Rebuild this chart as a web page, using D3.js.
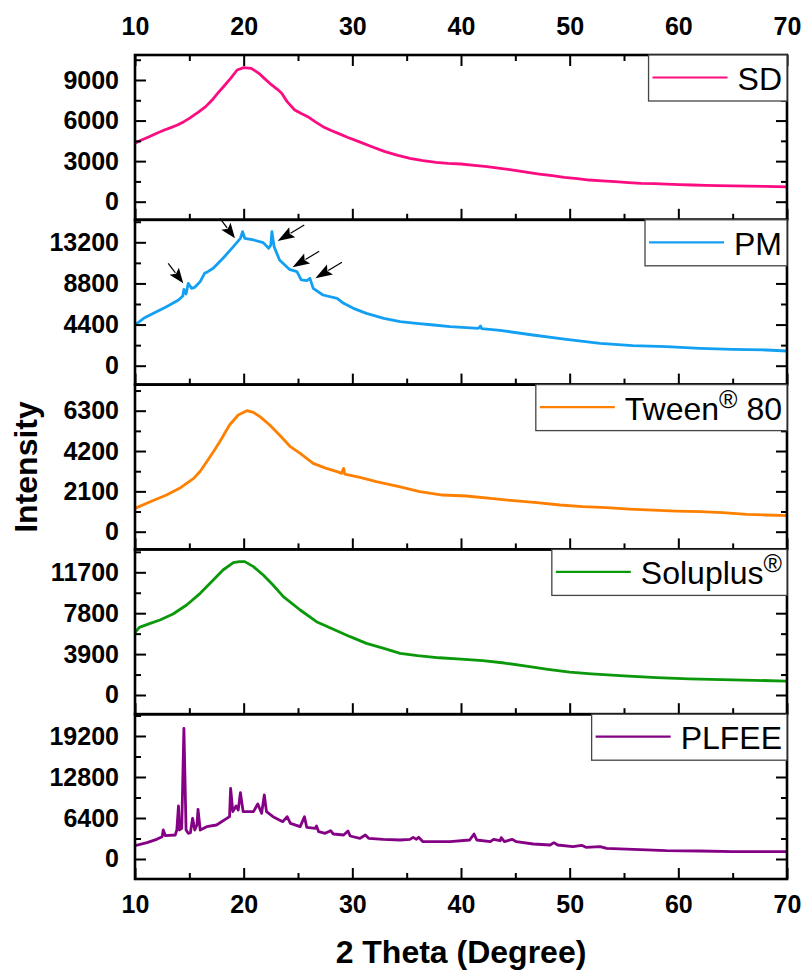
<!DOCTYPE html>
<html>
<head>
<meta charset="utf-8">
<script src="https://cdn.jsdelivr.net/npm/d3@7"></script>
<style>
  body { margin: 0; background: #fff; }
  svg { display: block; }
  text { font-family: "Liberation Sans", Arial, Helvetica, sans-serif; }
</style>
</head>
<body>
<svg id="chart" width="804" height="972"></svg>
<script>
// ---- Data: XRD scans, [2θ (degree), intensity] ----
const sdScan = [[10,4320],[10.6,4560],[11.3,4800],[12,5060],[12.7,5300],[13.3,5480],[13.9,5670],[14.5,5920],[15,6165],[15.8,6600],[16.5,7030],[17.1,7520],[17.6,8015],[18.2,8560],[18.8,9125],[19.4,9740],[20,9913],[20.7,9864],[21.4,9494],[21.9,9120],[22.4,8754],[23.1,8310],[23.5,8015],[24,7400],[24.7,6780],[25.3,6520],[25.9,6290],[26.6,5900],[27.3,5550],[28,5280],[28.7,5055],[29.6,4750],[30.6,4440],[31.8,4060],[33,3700],[34.2,3420],[35.3,3206],[36.5,3040],[37.7,2910],[38.8,2840],[40,2787],[41.2,2690],[42.4,2590],[43.6,2470],[44.8,2343],[46,2190],[47.2,2047],[48.4,1920],[49.5,1800],[50.7,1700],[51.8,1603],[53,1540],[54.2,1480],[55.4,1415],[56.6,1356],[57.8,1330],[58.9,1300],[60.1,1265],[61.3,1233],[62.5,1210],[63.6,1190],[65,1170],[66.5,1150],[68,1130],[70,1100]];

const pmScan = [[10,4353],[10.8,5066],[11.7,5600],[12.9,6315],[14,7029],[14.4,7457],[14.5,8170],[14.7,7670],[14.9,8813],[15.2,8278],[15.5,8385],[16,8991],[16.4,9883],[16.7,10062],[17.2,10419],[18.1,11489],[19.05,12738],[19.7,13630],[19.9,14343],[20.1,13630],[20.9,13451],[21.8,13166],[22.3,12560],[22.5,12916],[22.6,14343],[22.8,12738],[23.3,11311],[24.2,10312],[24.9,10062],[25.3,9170],[25.8,9098],[26.1,9348],[26.4,8278],[27.3,7564],[28.6,7207],[29.2,6672],[30.1,6137],[31.3,5602],[32.9,5066],[34.4,4710],[35.9,4531],[37.5,4353],[39,4175],[40.5,4068],[41.6,3996],[41.8,4246],[41.9,3960],[43.6,3780],[46.6,3283],[49.7,2819],[52.8,2391],[55.8,2141],[58.9,2034],[62,1855],[65,1748],[68.1,1677],[70,1570]];

const tweenScan = [[10,1215],[11.4,1562],[12.9,1910],[14.1,2257],[15.4,2778],[16,3150],[16.6,3646],[17.2,4150],[17.8,4687],[18.7,5555],[19.5,6076],[20.3,6300],[20.9,6215],[21.5,5989],[22.4,5555],[23.3,5034],[24.3,4427],[25.2,4080],[26.4,3559],[27.6,3298],[28.6,3125],[29,3038],[29.2,3298],[29.3,3003],[30.7,2830],[32.2,2604],[34.4,2330],[36.2,2083],[38.3,1910],[40.5,1858],[42.7,1736],[44.8,1614],[47,1510],[49.1,1389],[51.2,1302],[53.4,1250],[55.5,1180],[57.7,1128],[59.8,1076],[62,1042],[64.1,990],[66.3,903],[68.1,868],[70,833]];

const soluplusScan = [[10,5945],[10.4,6453],[11.4,6835],[12.3,7153],[13.5,7725],[14.75,8583],[16,9696],[17.2,10968],[18.1,11921],[19.05,12621],[19.6,12716],[20.1,12716],[20.9,12239],[21.8,11444],[22.7,10491],[23.65,9378],[25.2,8106],[26.7,6994],[28.25,6263],[29.8,5563],[31.3,4927],[32.9,4451],[34.4,3974],[36,3750],[38,3550],[40,3420],[42,3280],[44,3050],[46,2750],[48,2450],[50,2190],[52,2020],[55,1820],[58,1650],[61,1540],[64,1460],[67,1400],[70,1330]];

const plfeeScan = [[10,2081],[11.1,2550],[12,3070],[12.5,3486],[12.6,4527],[12.8,3642],[13.7,3746],[13.85,4527],[14,8273],[14.1,4527],[14.3,4787],[14.5,20396],[14.7,4527],[14.9,4006],[15.1,4110],[15.3,6348],[15.5,4527],[15.7,5307],[15.8,7752],[16,4527],[16.6,5047],[17.5,5307],[18.7,6608],[18.8,11030],[19,7388],[19.3,8273],[19.5,7648],[19.7,10354],[19.95,7388],[20.9,7388],[21.3,8585],[21.65,7128],[21.9,9990],[22.1,7388],[22.7,6608],[23.6,5827],[24,6608],[24.3,5567],[25.2,5047],[25.6,6608],[25.8,4943],[26.6,4787],[26.7,5151],[26.9,4266],[27.5,4006],[28,4423],[28.25,3902],[29.2,3746],[29.6,4370],[29.8,3590],[30.7,3226],[31.2,3746],[31.5,3226],[32.85,3070],[34.4,2966],[35.3,3070],[35.6,3382],[35.9,3070],[36.1,3382],[36.5,2706],[39,2706],[40.8,2966],[41.2,3902],[41.45,2966],[42.7,2706],[43,3070],[43.6,2850],[43.7,3330],[44,2706],[44.7,3070],[45.1,2706],[46.65,2341],[48.2,2185],[48.55,2550],[48.9,2185],[50.3,1925],[51.1,2133],[51.5,1821],[52.8,1925],[53.4,1665],[55.85,1509],[58.9,1300],[62,1249],[65,1145],[70,1145]];

// ---- Panel configuration ----
const seriesLabels = ["SD", "PM", "Tween® 80", "Soluplus®", "PLFEE"];
const seriesColors = ["#fb0c81", "#14a0f2", "#ff8000", "#0b980b", "#840084"];
const scans = [sdScan, pmScan, tweenScan, soluplusScan, plfeeScan];
const yDomains = [[-1339, 10849], [-2022, 15607], [-922, 7659], [-1831, 13884], [-3122, 22603]];
const yTickSteps = [3000, 4400, 2100, 3900, 6400];

const xDomain = [10, 70];
const xMajorTicks = [10, 20, 30, 40, 50, 60, 70];
const xMinorTicks = [15, 25, 35, 45, 55, 65];

// Peak markers on the PM pattern: tip position and the side the arrow comes from
const pmArrows = [
  { theta: 14.44, intensity: 8814, from: "upper-left" },
  { theta: 19.2, intensity: 13628, from: "upper-left" },
  { theta: 23.13, intensity: 13339, from: "upper-right" },
  { theta: 24.5, intensity: 10526, from: "upper-right" },
  { theta: 26.6, intensity: 9349, from: "upper-right" }
];

// ---- Layout ----
const svg = d3.select("#chart");
const left = 135, right = 787, top0 = 55, panelH = 164.8;
const majorLen = 11, minorLen = 6;
const tickFont = 25;

const x = d3.scaleLinear().domain(xDomain).range([left, right]);

const defs = svg.append("defs");

scans.forEach((scan, i) => {
  const pTop = top0 + i * panelH;
  const pBot = pTop + panelH;
  const y = d3.scaleLinear().domain(yDomains[i]).range([pBot, pTop]);
  const g = svg.append("g").attr("class", "panel");

  const step = yTickSteps[i];
  const majors = d3.range(0, yDomains[i][1] + 1, step);
  const minors = d3.range(step / 2, yDomains[i][1], step);

  // clip for the curve
  const clipId = "clip" + i;
  defs.append("clipPath").attr("id", clipId)
    .append("rect").attr("x", left).attr("y", pTop).attr("width", right - left).attr("height", panelH);

  // curve
  const line = d3.line().x(d => x(d[0])).y(d => y(d[1]));
  g.append("path").datum(scan)
    .attr("clip-path", `url(#${clipId})`)
    .attr("d", line)
    .attr("fill", "none")
    .attr("stroke", seriesColors[i])
    .attr("stroke-width", 2.8)
    .attr("stroke-linejoin", "round");

  // left axis (labels, inward ticks)
  const leftAx = g.append("g").attr("transform", `translate(${left},0)`)
    .call(d3.axisLeft(y).tickValues(majors).tickSizeInner(-majorLen).tickSizeOuter(0).tickPadding(16).tickFormat(d3.format("d")));
  leftAx.append("g").call(d3.axisLeft(y).tickValues(minors).tickSizeInner(-minorLen).tickSizeOuter(0).tickFormat(""));

  // right axis (inward ticks, no labels)
  const rightAx = g.append("g").attr("transform", `translate(${right},0)`)
    .call(d3.axisRight(y).tickValues(majors).tickSizeInner(-majorLen).tickSizeOuter(0).tickFormat(""));
  rightAx.append("g").call(d3.axisRight(y).tickValues(minors).tickSizeInner(-minorLen).tickSizeOuter(0).tickFormat(""));

  // bottom axis of the panel (ticks pointing up)
  const isLast = i === scans.length - 1;
  const botAx = g.append("g").attr("transform", `translate(0,${pBot})`)
    .call(d3.axisBottom(x).tickValues(xMajorTicks).tickSizeInner(-majorLen).tickSizeOuter(0).tickPadding(16)
      .tickFormat(isLast ? d3.format("d") : ""));
  botAx.append("g").call(d3.axisBottom(x).tickValues(xMinorTicks).tickSizeInner(-minorLen).tickSizeOuter(0).tickFormat(""));

  // top axis on the first panel only (labelled, ticks pointing down)
  if (i === 0) {
    const topAx = g.append("g").attr("transform", `translate(0,${pTop})`)
      .call(d3.axisTop(x).tickValues(xMajorTicks).tickSizeInner(-majorLen).tickSizeOuter(0).tickPadding(20).tickFormat(d3.format("d")));
    topAx.append("g").call(d3.axisTop(x).tickValues(xMinorTicks).tickSizeInner(-minorLen).tickSizeOuter(0).tickFormat(""));
  }

  // frame
  g.append("rect").attr("x", left).attr("y", pTop).attr("width", right - left).attr("height", panelH)
    .attr("fill", "none").attr("stroke", "#000").attr("stroke-width", 2.6);

  // legend
  const parts = seriesLabels[i].split("®");
  const leg = g.append("g");
  const box = leg.append("rect");
  const txt = leg.append("text")
    .attr("y", pTop + 35)
    .attr("font-size", 32).attr("fill", "#000");
  txt.append("tspan").text(parts[0]);
  if (parts.length > 1) {
    txt.append("tspan").attr("font-size", 25).attr("dy", -12).text("®");
    if (parts[1].length) txt.append("tspan").attr("dy", 12).text(parts[1]);
  }
  const tw = txt.node().getComputedTextLength();
  const textX = right - 5 - tw;
  txt.attr("x", textX);
  const boxL = textX - 89;
  box.attr("x", boxL).attr("y", pTop).attr("width", right - boxL).attr("height", 46)
    .attr("fill", "#fff").attr("stroke", "#444").attr("stroke-width", 1.3);
  leg.append("line").attr("x1", boxL + 4).attr("x2", boxL + 79)
    .attr("y1", pTop + 22.5).attr("y2", pTop + 22.5)
    .attr("stroke", seriesColors[i]).attr("stroke-width", 2.2);
  txt.raise();

  // arrows marking PM reflections
  if (i === 1) {
    pmArrows.forEach(a => {
      const fromLeft = a.from === "upper-left";
      const ang = fromLeft ? 53 : 149;
      const total = fromLeft ? 25 : 31;
      const head = fromLeft ? 15 : 17;
      const ag = g.append("g")
        .attr("transform", `translate(${x(a.theta)},${y(a.intensity)}) rotate(${ang})`);
      ag.append("line").attr("x1", -head + 2).attr("x2", -total).attr("y1", 0).attr("y2", 0)
        .attr("stroke", "#000").attr("stroke-width", 1.2);
      ag.append("path").attr("d", `M0,0 L${-head},${-5.8} L${-head + 3},0 L${-head},5.8 Z`)
        .attr("fill", "#000");
    });
  }
});

// axis styling
svg.selectAll(".domain").remove();
svg.selectAll(".tick line").attr("stroke", "#000").attr("stroke-width", 2);
svg.selectAll(".tick text")
  .attr("font-size", tickFont).attr("font-weight", "bold").attr("fill", "#000")
  .style("font-family", '"Liberation Sans", Arial, sans-serif');

// axis titles
svg.append("text")
  .attr("transform", `translate(37,${top0 + panelH * 2.5}) rotate(-90)`)
  .attr("text-anchor", "middle")
  .attr("font-size", 32).attr("font-weight", "bold")
  .text("Intensity");

svg.append("text")
  .attr("x", (left + right) / 2).attr("y", 963)
  .attr("text-anchor", "middle")
  .attr("font-size", 32).attr("font-weight", "bold")
  .text("2 Theta (Degree)");
</script>
</body>
</html>
